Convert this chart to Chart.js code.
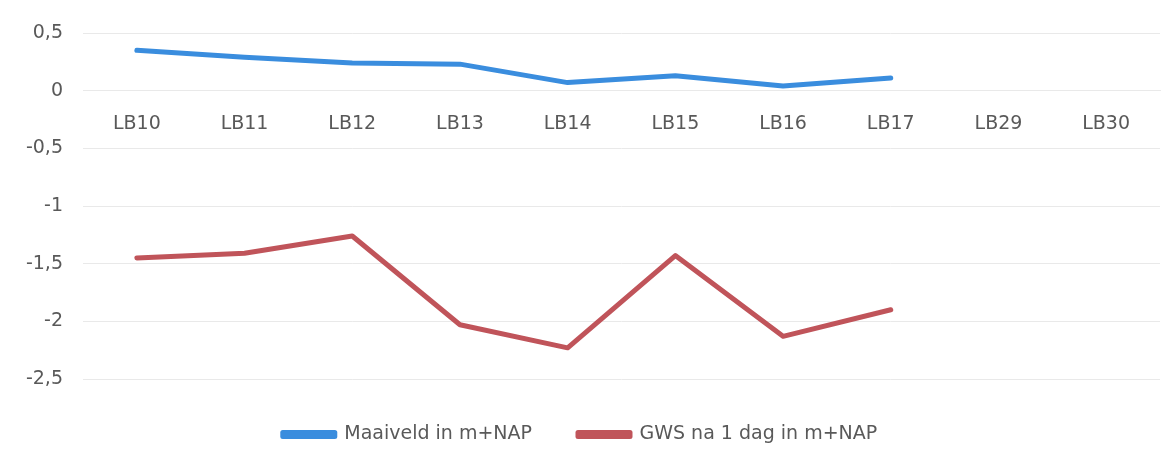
<!DOCTYPE html>
<html>
<head>
<meta charset="utf-8">
<script src="https://cdn.jsdelivr.net/npm/chart.js@4/dist/chart.umd.min.js"></script>
<style>
  html, body { margin: 0; padding: 0; background: #fff; }
  #wrap { width: 1173px; height: 463px; }
</style>
</head>
<body>
<div id="wrap"><canvas id="myChart" width="1173" height="463"></canvas></div>
<script>
// data
const labels = ['LB10', 'LB11', 'LB12', 'LB13', 'LB14', 'LB15', 'LB16', 'LB17', 'LB29', 'LB30'];
const maaiveld = [0.35, 0.29, 0.24, 0.23, 0.07, 0.13, 0.04, 0.11, null, null];
const gws = [-1.45, -1.41, -1.26, -2.03, -2.23, -1.43, -2.13, -1.90, null, null];
const yTicks = [0.5, 0, -0.5, -1, -1.5, -2, -2.5];

const fontFam = '"DejaVu Sans", "Open Sans", sans-serif';
const textCol = '#595959';
const gridCol = '#e9e9e9';

const displayChart = () => {
    const ctx = document.getElementById('myChart');
    new Chart(ctx, {
        type: 'line',
        data: {
            labels: labels,
            datasets: [{
                label: 'Maaiveld in m+NAP',
                data: maaiveld,
                borderColor: '#3a8dde',
                backgroundColor: '#3a8dde',
                borderWidth: 5,
                pointRadius: 0,
                borderCapStyle: 'round',
                borderJoinStyle: 'round',
                tension: 0
            }, {
                label: 'GWS na 1 dag in m+NAP',
                data: gws,
                borderColor: '#c0545a',
                backgroundColor: '#c0545a',
                borderWidth: 5,
                pointRadius: 0,
                borderCapStyle: 'round',
                borderJoinStyle: 'round',
                tension: 0
            }]
        },
        options: {
            responsive: false,
            animation: false,
            layout: {
                padding: { top: 33, right: 13, left: 0, bottom: 9 }
            },
            plugins: {
                tooltip: { enabled: false },
                legend: {
                    position: 'bottom',
                    labels: {
                        boxWidth: 52,
                        boxHeight: 4,
                        padding: 46,
                        color: textCol,
                        font: { family: fontFam, size: 19 }
                    }
                }
            },
            scales: {
                x: {
                    position: { y: 0 },
                    offset: true,
                    grid: { display: false, drawTicks: false },
                    border: { display: true, color: gridCol, width: 1 },
                    ticks: {
                        padding: 22,
                        color: textCol,
                        font: { family: fontFam, size: 19 }
                    }
                },
                y: {
                    min: -2.5,
                    max: 0.5,
                    afterFit: (scale) => { scale.width = 83; },
                    afterBuildTicks: (scale) => {
                        scale.ticks = yTicks.map(v => ({ value: v }));
                    },
                    grid: { color: gridCol, drawTicks: false },
                    border: { display: false },
                    ticks: {
                        padding: 20,
                        color: textCol,
                        font: { family: fontFam, size: 19 },
                        callback: (v) => String(v).replace('.', ',')
                    }
                }
            }
        }
    });
}

displayChart();
</script>
</body>
</html>
